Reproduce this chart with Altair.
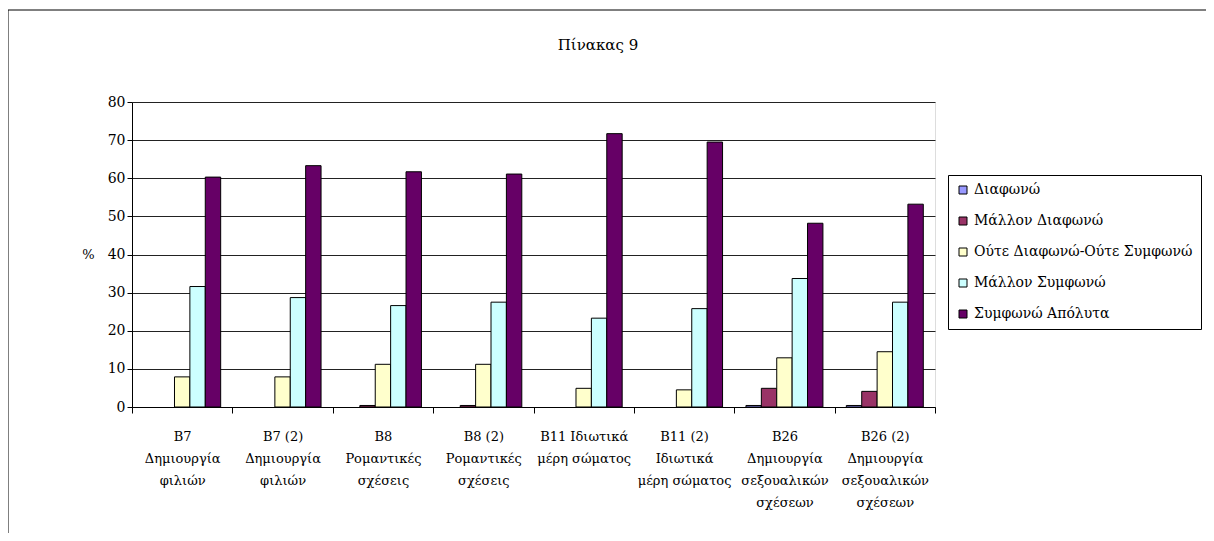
import altair as alt
import pandas as pd

categories = [
    "B7|Δημιουργία|φιλιών",
    "B7 (2)|Δημιουργία|φιλιών",
    "B8|Ρομαντικές|σχέσεις",
    "B8 (2)|Ρομαντικές|σχέσεις",
    "B11 Ιδιωτικά|μέρη σώματος",
    "B11 (2)|Ιδιωτικά|μέρη σώματος",
    "B26|Δημιουργία|σεξουαλικών|σχέσεων",
    "B26 (2)|Δημιουργία|σεξουαλικών|σχέσεων",
]
series = ["Διαφωνώ", "Μάλλον Διαφωνώ", "Ούτε Διαφωνώ-Ούτε Συμφωνώ", "Μάλλον Συμφωνώ", "Συμφωνώ Απόλυτα"]
colors = ["#9999FF", "#993366", "#FFFFCC", "#CCFFFF", "#660066"]

diafono = [0, 0, 0, 0, 0, 0, 0.4, 0.4]
mallon_diafono = [0, 0, 0.4, 0.4, 0, 0, 4.9, 4.1]
oute = [7.9, 7.9, 11.2, 11.2, 4.9, 4.5, 12.9, 14.5]
mallon_symfono = [31.6, 28.7, 26.6, 27.5, 23.3, 25.8, 33.7, 27.5]
symfono_apolyta = [60.3, 63.3, 61.7, 61.1, 71.7, 69.5, 48.2, 53.2]

title_text = ["Πίνακας  9"]

values = [diafono, mallon_diafono, oute, mallon_symfono, symfono_apolyta]
rows = []
for s, vals in zip(series, values):
    for c, v in zip(categories, vals):
        rows.append({"cat": c, "series": s, "value": v})
df = pd.DataFrame(rows)

FONT = "DejaVu Serif"

bars = alt.Chart(df).transform_filter("datum.value > 0").mark_bar(
    stroke="black", strokeWidth=1
).encode(
    x=alt.X("cat:N", sort=categories, title=None,
            scale=alt.Scale(paddingInner=0, paddingOuter=0),
            axis=alt.Axis(labelExpr="split(datum.label, '|')", labelAngle=0,
                          labelFont=FONT, labelFontSize=13, labelColor="black",
                          labelLineHeight=22, labelBaseline="top", labelPadding=17,
                          labelOverlap=False, labelLimit=300,
                          tickBand="extent", tickSize=6, tickColor="black",
                          domainColor="black", grid=False)),
    xOffset=alt.XOffset("series:N", sort=series,
                        scale=alt.Scale(paddingInner=0, paddingOuter=0.76)),
    y=alt.Y("value:Q", scale=alt.Scale(domain=[0, 80], nice=False),
            axis=alt.Axis(values=list(range(0, 90, 10)), title="%", titleAngle=0,
                          titleX=-44, titleY=152, titleAlign="center", titleBaseline="middle",
                          titleFont=FONT, titleFontSize=13, titleFontWeight="normal",
                          titleColor="black",
                          labelFont=FONT, labelFontSize=14, labelColor="black",
                          labelPadding=2, tickSize=5, tickColor="black",
                          domainColor="black", gridColor="#222222", gridWidth=1)),
    color=alt.Color("series:N", sort=series,
                    scale=alt.Scale(domain=series, range=colors),
                    legend=alt.Legend(title=None, orient="none", legendX=816, legendY=73,
                                      strokeColor="black", fillColor="white", padding=8,
                                      rowPadding=17, symbolType="square", symbolSize=64,
                                      symbolStrokeColor="black", symbolStrokeWidth=1,
                                      labelFont=FONT, labelFontSize=14, labelColor="black",
                                      labelOffset=4, labelLimit=400)),
)

one = pd.DataFrame({"t": title_text})

frame_left = alt.Chart(one).mark_rule(color="black", strokeWidth=1).encode(
    x=alt.value(-124), y=alt.value(-92), y2=alt.value(431)
)
frame_top = alt.Chart(one).mark_rule(color="black", strokeWidth=1).encode(
    x=alt.value(-124), x2=alt.value(1074), y=alt.value(-92)
)
title = alt.Chart(one).mark_text(
    font=FONT, fontSize=15, color="black", align="center", baseline="middle"
).encode(text="t:N", x=alt.value(466), y=alt.value(-57))

chart = alt.layer(frame_left, frame_top, title, bars).properties(
    width=803, height=305,
    autosize=alt.AutoSizeParams(type="none"),
    padding={"left": 124, "top": 94, "right": 271, "bottom": 126},
).configure_view(
    fill="#C0C0C0", stroke="#808080", strokeWidth=1
).configure(background="white", font=FONT)

chart.save("out.html", embed_options={"renderer": "svg", "actions": False})
